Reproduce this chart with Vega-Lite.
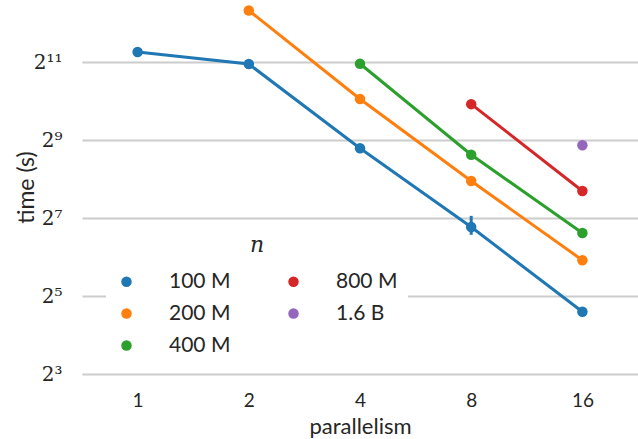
{
  "$schema": "https://vega.github.io/schema/vega-lite/v6.json",
  "autosize": {"type": "none"},
  "width": 556,
  "height": 374,
  "padding": {"left": 82, "top": 0, "right": 0, "bottom": 65},
  "background": "white",
  "config": {
    "view": {"stroke": null},
    "font": "Lato"
  },
  "data": {
    "values": [
      {"p": "1", "n": "100 M", "t": 2446},
      {"p": "2", "n": "100 M", "t": 1976},
      {"p": "4", "n": "100 M", "t": 442},
      {"p": "8", "n": "100 M", "t": 109, "lo": 95, "hi": 133},
      {"p": "16", "n": "100 M", "t": 24.2},
      {"p": "2", "n": "200 M", "t": 5120},
      {"p": "4", "n": "200 M", "t": 1062},
      {"p": "8", "n": "200 M", "t": 247},
      {"p": "16", "n": "200 M", "t": 60.5},
      {"p": "4", "n": "400 M", "t": 1987},
      {"p": "8", "n": "400 M", "t": 394},
      {"p": "16", "n": "400 M", "t": 98},
      {"p": "8", "n": "800 M", "t": 969},
      {"p": "16", "n": "800 M", "t": 207},
      {"p": "16", "n": "1.6 B", "t": 466}
    ]
  },
  "encoding": {
    "x": {
      "field": "p", "type": "ordinal",
      "sort": ["1", "2", "4", "8", "16"],
      "scale": {"type": "point", "padding": 0.5},
      "axis": {
        "title": "parallelism", "titleFontSize": 22, "titleFont": "Lato", "titleFontWeight": "normal", "titleColor": "#262626",
        "labelFontSize": 19, "labelColor": "#262626", "labelAngle": 0, "labelPadding": 17,
        "domain": false, "ticks": false, "grid": false, "titlePadding": 6
      }
    },
    "y": {
      "field": "t", "type": "quantitative",
      "scale": {"type": "log", "base": 2, "domain": [8, 6170], "nice": false},
      "axis": {
        "title": "time (s)", "titleFontSize": 23, "titleFont": "Lato", "titleFontWeight": "normal", "titleColor": "#262626",
        "titleX": -44,
        "values": [8, 32, 128, 512, 2048],
        "labelExpr": "datum.value == 8 ? '2³' : datum.value == 32 ? '2⁵' : datum.value == 128 ? '2⁷' : datum.value == 512 ? '2⁹' : '2¹¹'",
        "labelFont": "DejaVu Serif", "labelFontSize": 20, "labelColor": "#262626", "labelPadding": 20,
        "domain": false, "ticks": false,
        "grid": true, "gridColor": "#cccccc", "gridWidth": 2
      }
    },
    "color": {
      "field": "n", "type": "nominal",
      "scale": {
        "domain": ["100 M", "200 M", "400 M", "800 M", "1.6 B"],
        "range": ["#1f77b4", "#ff7f0e", "#2ca02c", "#d62728", "#9467bd"]
      },
      "legend": {
        "orient": "none", "legendX": 24, "legendY": 225,
        "columns": 2, "columnPadding": 52, "rowPadding": 10,
        "fillColor": "white", "padding": 10,
        "title": "n", "titleFont": "DejaVu Serif", "titleFontStyle": "italic", "titleFontWeight": "normal",
        "titleFontSize": 22, "titleAnchor": "middle", "titleColor": "#262626", "titlePadding": 14,
        "symbolType": "circle", "symbolSize": 110, "symbolStrokeWidth": 0,
        "labelFontSize": 21, "labelColor": "#262626", "labelOffset": 32
      }
    }
  },
  "layer": [
    {"mark": {"type": "line", "strokeWidth": 3}},
    {
      "transform": [{"filter": "datum.lo != null"}],
      "mark": {"type": "rule", "strokeWidth": 3},
      "encoding": {"y": {"field": "lo", "type": "quantitative"}, "y2": {"field": "hi"}}
    },
    {"mark": {"type": "circle", "size": 110, "opacity": 1}}
  ]
}
